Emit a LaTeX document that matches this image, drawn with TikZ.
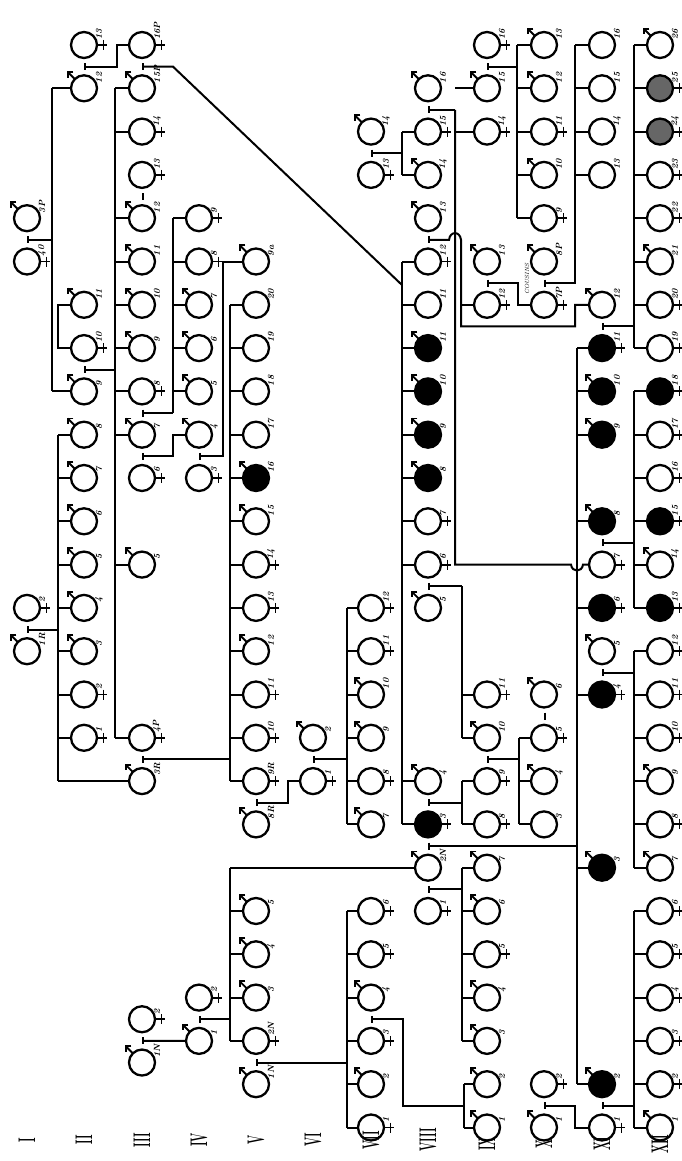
\documentclass[tikz,border=0pt]{standalone}
\usepackage{graphicx}
\usetikzlibrary{calc}
\pgfmathdeclarefunction{ry}{1}{\pgfmathparse{45+43.3*(#1-1)}}
\def\xA{27}\def\xB{84}\def\xC{142}\def\xD{199}\def\xE{256}\def\xF{313}
\def\xG{371}\def\xH{428}\def\xI{487}\def\xJ{544}\def\xK{602}\def\xL{660}
\tikzset{
  ln/.style={line width=2pt},
  sym/.style={line width=1.9pt},
  pers/.style={circle, draw, line width=2.3pt, minimum size=26pt, inner sep=0pt, outer sep=0pt, fill=white},
  fn/.style={}, fb/.style={fill=black}, fg/.style={fill=black!60},
  lab/.style={rotate=90, font=\fontsize{9}{9}\selectfont\bfseries\itshape, inner sep=0pt, anchor=west},
  rom/.style={rotate=90, font=\fontsize{24}{24}\selectfont\bfseries, inner sep=0pt},
}
\newcommand\sxm[1]{\draw[sym] (#1.135) -- ++(-7,-7) coordinate (#1A);
  \draw[sym] ($(#1A)+(5.5,0)$) -- (#1A) -- ($(#1A)+(0,5.5)$);}
\newcommand\sxf[1]{\draw[sym] (#1.east) -- ++(10,0);
  \draw[sym] ($(#1.east)+(6.5,-5)$) -- ($(#1.east)+(6.5,5)$);}
\newcommand\sxu[1]{}
\newcommand\ind[6]{%
  \node[pers,#5] (#1) at (#2,{ry(#3)}) {};
  \csname sx#4\endcsname{#1}%
  \node[lab] (#1L) at ($(#1)+(15,-5)$) {#6};}
\newcommand\tick[3]{\coordinate (#1) at ($(#2)!0.5!(#3)+(1,0)$);
  \draw[ln] ($(#1)+(0,-3.5)$) -- ($(#1)+(0,3.5)$);}
\newcommand\drop[2]{\draw[ln] (#1) -- (#2,0 |- #1);}
\newcommand\stub[2]{\draw[ln] (#1,0 |- #2.west) -- (#2.west);}
\newcommand\vbar[3]{\draw[ln] (#1,{ry(#2)}) -- (#1,{ry(#3)});}
\begin{document}
\begin{tikzpicture}[x=1pt,y=-1pt]
\useasboundingbox (0,0) rectangle (682,1161);
\fill[white] (0,0) rectangle (682,1161);
% ---------------- Gen I
\ind{c1r5}{\xA}{5}{m}{fn}{3P}
\ind{c1r6}{\xA}{6}{f}{fn}{40}
\ind{c1r14}{\xA}{14}{f}{fn}{2}
\ind{c1r15}{\xA}{15}{m}{fn}{1R}
% ---------------- Gen II
\ind{c2r1}{\xB}{1}{f}{fn}{13}
\ind{c2r2}{\xB}{2}{m}{fn}{12}
\ind{c2r7}{\xB}{7}{m}{fn}{11}
\ind{c2r8}{\xB}{8}{f}{fn}{10}
\ind{c2r9}{\xB}{9}{m}{fn}{9}
\ind{c2r10}{\xB}{10}{m}{fn}{8}
\ind{c2r11}{\xB}{11}{m}{fn}{7}
\ind{c2r12}{\xB}{12}{m}{fn}{6}
\ind{c2r13}{\xB}{13}{m}{fn}{5}
\ind{c2r14}{\xB}{14}{m}{fn}{4}
\ind{c2r15}{\xB}{15}{m}{fn}{3}
\ind{c2r16}{\xB}{16}{f}{fn}{2}
\ind{c2r17}{\xB}{17}{f}{fn}{1}
% ---------------- Gen III
\ind{c3r1}{\xC}{1}{f}{fn}{16P}
\ind{c3r2}{\xC}{2}{m}{fn}{15P}
\ind{c3r3}{\xC}{3}{f}{fn}{14}
\ind{c3r4}{\xC}{4}{f}{fn}{13}
\ind{c3r5}{\xC}{5}{m}{fn}{12}
\ind{c3r6}{\xC}{6}{m}{fn}{11}
\ind{c3r7}{\xC}{7}{m}{fn}{10}
\ind{c3r8}{\xC}{8}{m}{fn}{9}
\ind{c3r9}{\xC}{9}{f}{fn}{8}
\ind{c3r10}{\xC}{10}{m}{fn}{7}
\ind{c3r11}{\xC}{11}{f}{fn}{6}
\ind{c3r13}{\xC}{13}{m}{fn}{5}
\ind{c3r17}{\xC}{17}{f}{fn}{4P}
\ind{c3r18}{\xC}{18}{m}{fn}{3R}
\ind{c3r23}{\xC}{23.5}{f}{fn}{2}
\ind{c3r24}{\xC}{24.5}{m}{fn}{1N}
% ---------------- Gen IV
\ind{c4r5}{\xD}{5}{f}{fn}{9}
\ind{c4r6}{\xD}{6}{f}{fn}{8}
\ind{c4r7}{\xD}{7}{m}{fn}{7}
\ind{c4r8}{\xD}{8}{m}{fn}{6}
\ind{c4r9}{\xD}{9}{m}{fn}{5}
\ind{c4r10}{\xD}{10}{m}{fn}{4}
\ind{c4r11}{\xD}{11}{f}{fn}{3}
\ind{c4r23}{\xD}{23}{f}{fn}{2}
\ind{c4r24}{\xD}{24}{m}{fn}{1}
% ---------------- Gen V
\ind{c5r6}{\xE}{6}{m}{fn}{9a}
\ind{c5r7}{\xE}{7}{u}{fn}{20}
\ind{c5r8}{\xE}{8}{u}{fn}{19}
\ind{c5r9}{\xE}{9}{u}{fn}{18}
\ind{c5r10}{\xE}{10}{u}{fn}{17}
\ind{c5r11}{\xE}{11}{m}{fb}{16}
\ind{c5r12}{\xE}{12}{m}{fn}{15}
\ind{c5r13}{\xE}{13}{f}{fn}{14}
\ind{c5r14}{\xE}{14}{f}{fn}{13}
\ind{c5r15}{\xE}{15}{m}{fn}{12}
\ind{c5r16}{\xE}{16}{f}{fn}{11}
\ind{c5r17}{\xE}{17}{f}{fn}{10}
\ind{c5r18}{\xE}{18}{f}{fn}{9R}
\ind{c5r19}{\xE}{19}{m}{fn}{8R}
\ind{c5r21}{\xE}{21}{m}{fn}{5}
\ind{c5r22}{\xE}{22}{m}{fn}{4}
\ind{c5r23}{\xE}{23}{m}{fn}{3}
\ind{c5r24}{\xE}{24}{f}{fn}{2N}
\ind{c5r25}{\xE}{25}{m}{fn}{1N}
% ---------------- Gen VI
\ind{c6r17}{\xF}{17}{m}{fn}{2}
\ind{c6r18}{\xF}{18}{f}{fn}{1}
% ---------------- Gen VII
\ind{c7r3}{\xG}{3}{m}{fn}{14}
\ind{c7r4}{\xG}{4}{f}{fn}{13}
\ind{c7r14}{\xG}{14}{f}{fn}{12}
\ind{c7r15}{\xG}{15}{f}{fn}{11}
\ind{c7r16}{\xG}{16}{m}{fn}{10}
\ind{c7r17}{\xG}{17}{m}{fn}{9}
\ind{c7r18}{\xG}{18}{f}{fn}{8}
\ind{c7r19}{\xG}{19}{m}{fn}{7}
\ind{c7r21}{\xG}{21}{f}{fn}{6}
\ind{c7r22}{\xG}{22}{f}{fn}{5}
\ind{c7r23}{\xG}{23}{m}{fn}{4}
\ind{c7r24}{\xG}{24}{f}{fn}{3}
\ind{c7r25}{\xG}{25}{m}{fn}{2}
\ind{c7r26}{\xG}{26}{f}{fn}{1}
% ---------------- Gen VIII
\ind{c8r2}{\xH}{2}{m}{fn}{16}
\ind{c8r3}{\xH}{3}{f}{fn}{15}
\ind{c8r4}{\xH}{4}{m}{fn}{14}
\ind{c8r5}{\xH}{5}{m}{fn}{13}
\ind{c8r6}{\xH}{6}{f}{fn}{12}
\ind{c8r7}{\xH}{7}{u}{fn}{11}
\ind{c8r8}{\xH}{8}{m}{fb}{11}
\ind{c8r9}{\xH}{9}{m}{fb}{10}
\ind{c8r10}{\xH}{10}{m}{fb}{9}
\ind{c8r11}{\xH}{11}{m}{fb}{8}
\ind{c8r12}{\xH}{12}{f}{fn}{7}
\ind{c8r13}{\xH}{13}{f}{fn}{6}
\ind{c8r14}{\xH}{14}{m}{fn}{5}
\ind{c8r18}{\xH}{18}{m}{fn}{4}
\ind{c8r19}{\xH}{19}{f}{fb}{3}
\ind{c8r20}{\xH}{20}{m}{fn}{2N}
\ind{c8r21}{\xH}{21}{f}{fn}{1}
% ---------------- Gen IX
\ind{c9r1}{\xI}{1}{f}{fn}{16}
\ind{c9r2}{\xI}{2}{m}{fn}{15}
\ind{c9r3}{\xI}{3}{f}{fn}{14}
\ind{c9r6}{\xI}{6}{m}{fn}{13}
\ind{c9r7}{\xI}{7}{f}{fn}{12}
\ind{c9r16}{\xI}{16}{f}{fn}{11}
\ind{c9r17}{\xI}{17}{m}{fn}{10}
\ind{c9r18}{\xI}{18}{f}{fn}{9}
\ind{c9r19}{\xI}{19}{f}{fn}{8}
\ind{c9r20}{\xI}{20}{m}{fn}{7}
\ind{c9r21}{\xI}{21}{m}{fn}{6}
\ind{c9r22}{\xI}{22}{f}{fn}{5}
\ind{c9r23}{\xI}{23}{m}{fn}{4}
\ind{c9r24}{\xI}{24}{m}{fn}{3}
\ind{c9r25}{\xI}{25}{m}{fn}{2}
\ind{c9r26}{\xI}{26}{m}{fn}{1}
% ---------------- Gen X
\ind{c10r1}{\xJ}{1}{m}{fn}{13}
\ind{c10r2}{\xJ}{2}{m}{fn}{12}
\ind{c10r3}{\xJ}{3}{f}{fn}{11}
\ind{c10r4}{\xJ}{4}{m}{fn}{10}
\ind{c10r5}{\xJ}{5}{f}{fn}{9}
\ind{c10r6}{\xJ}{6}{m}{fn}{8P}
\ind{c10r7}{\xJ}{7}{f}{fn}{7P}
\ind{c10r16}{\xJ}{16}{m}{fn}{6}
\ind{c10r17}{\xJ}{17}{f}{fn}{5}
\ind{c10r18}{\xJ}{18}{m}{fn}{4}
\ind{c10r19}{\xJ}{19}{u}{fn}{3}
\ind{c10r25}{\xJ}{25}{f}{fn}{2}
\ind{c10r26}{\xJ}{26}{m}{fn}{1}
% ---------------- Gen XI
\ind{c11r1}{\xK}{1}{u}{fn}{16}
\ind{c11r2}{\xK}{2}{u}{fn}{15}
\ind{c11r3}{\xK}{3}{u}{fn}{14}
\ind{c11r4}{\xK}{4}{u}{fn}{13}
\ind{c11r7}{\xK}{7}{m}{fn}{12}
\ind{c11r8}{\xK}{8}{f}{fb}{11}
\ind{c11r9}{\xK}{9}{m}{fb}{10}
\ind{c11r10}{\xK}{10}{m}{fb}{9}
\ind{c11r12}{\xK}{12}{m}{fb}{8}
\ind{c11r13}{\xK}{13}{f}{fn}{7}
\ind{c11r14}{\xK}{14}{f}{fb}{6}
\ind{c11r15}{\xK}{15}{m}{fn}{5}
\ind{c11r16}{\xK}{16}{f}{fb}{4}
\ind{c11r20}{\xK}{20}{m}{fb}{3}
\ind{c11r25}{\xK}{25}{m}{fb}{2}
\ind{c11r26}{\xK}{26}{f}{fn}{1}
% ---------------- Gen XII
\ind{c12r1}{\xL}{1}{m}{fn}{26}
\ind{c12r2}{\xL}{2}{f}{fg}{25}
\ind{c12r3}{\xL}{3}{f}{fg}{24}
\ind{c12r4}{\xL}{4}{f}{fn}{23}
\ind{c12r5}{\xL}{5}{f}{fn}{22}
\ind{c12r6}{\xL}{6}{m}{fn}{21}
\ind{c12r7}{\xL}{7}{f}{fn}{20}
\ind{c12r8}{\xL}{8}{f}{fn}{19}
\ind{c12r9}{\xL}{9}{f}{fb}{18}
\ind{c12r10}{\xL}{10}{f}{fn}{17}
\ind{c12r11}{\xL}{11}{f}{fn}{16}
\ind{c12r12}{\xL}{12}{f}{fb}{15}
\ind{c12r13}{\xL}{13}{m}{fn}{14}
\ind{c12r14}{\xL}{14}{f}{fb}{13}
\ind{c12r15}{\xL}{15}{f}{fn}{12}
\ind{c12r16}{\xL}{16}{f}{fn}{11}
\ind{c12r17}{\xL}{17}{f}{fn}{10}
\ind{c12r18}{\xL}{18}{m}{fn}{9}
\ind{c12r19}{\xL}{19}{f}{fn}{8}
\ind{c12r20}{\xL}{20}{m}{fn}{7}
\ind{c12r21}{\xL}{21}{f}{fn}{6}
\ind{c12r22}{\xL}{22}{f}{fn}{5}
\ind{c12r23}{\xL}{23}{f}{fn}{4}
\ind{c12r24}{\xL}{24}{f}{fn}{3}
\ind{c12r25}{\xL}{25}{f}{fn}{2}
\ind{c12r26}{\xL}{26}{m}{fn}{1}
% =============== connectors
% Gen I
\tick{tA}{c1r5}{c1r6}\drop{tA}{52}
\vbar{52}{2}{9}\stub{52}{c2r2}\stub{52}{c2r9}
\draw[ln] (c2r7.west) -- (58,0 |- c2r7.west) -- (58,0 |- c2r8.west) -- (c2r8.west);
\tick{tB}{c1r14}{c1r15}\drop{tB}{58}
\vbar{58}{10}{18}
\foreach \r in {10,...,17}{\stub{58}{c2r\r}}
\stub{58}{c3r18}
% Gen II
\tick{tC}{c2r1}{c2r2}
\draw[ln] (tC) -- (117,0 |- tC) -- (117,0 |- c3r1.west) -- (c3r1.west);
\tick{tD}{c2r8}{c2r9}\drop{tD}{115}
\vbar{115}{2}{17}
\foreach \r in {2,3,5,6,7,8,9,10,13,17}{\stub{115}{c3r\r}}
% Gen III
\tick{tE}{c3r1}{c3r2}
\draw[ln] (tE) -- (173,0 |- tE) -- (402,285);
\tick{tF}{c3r4}{c3r5}
\tick{tG}{c3r9}{c3r10}\drop{tG}{173}
\draw[ln] (173,{ry(5)}) -- (173,0 |- tG);
\foreach \r in {5,...,9}{\stub{173}{c4r\r}}
\tick{tH}{c3r10}{c3r11}
\draw[ln] (tH) -- (173,0 |- tH) -- (173,0 |- c4r10.west) -- (c4r10.west);
\tick{tI}{c3r17}{c3r18}\drop{tI}{230}
\vbar{230}{7}{18}
\foreach \r in {7,...,18}{\stub{230}{c5r\r}}
\tick{tJ}{c3r23}{c3r24}
\draw[ln] (tJ) -- (c4r24.west);
% Gen IV
\tick{tK}{c4r10}{c4r11}
\draw[ln] (tK) -- (223,0 |- tK) -- (223,0 |- c5r6.west) -- (c5r6.west);
\tick{tL}{c4r23}{c4r24}\drop{tL}{230}
\vbar{230}{20}{24}
\foreach \r in {21,...,24}{\stub{230}{c5r\r}}
\stub{230}{c8r20}
% Gen V
\tick{tM}{c5r18}{c5r19}
\draw[ln] (tM) -- (288,0 |- tM) -- (288,0 |- c6r18.west) -- (c6r18.west);
\tick{tN}{c5r24}{c5r25}\drop{tN}{347}
\vbar{347}{21}{26}
\foreach \r in {21,...,26}{\stub{347}{c7r\r}}
% Gen VI
\tick{tO}{c6r17}{c6r18}\drop{tO}{347}
\vbar{347}{14}{19}
\foreach \r in {14,...,19}{\stub{347}{c7r\r}}
% Gen VII
\tick{tP}{c7r3}{c7r4}\drop{tP}{402}
\vbar{402}{3}{4}\stub{402}{c8r3}\stub{402}{c8r4}
\tick{tQ}{c7r23}{c7r24}
\draw[ln] (tQ) -- (403,0 |- tQ) -- (403,{ry(25.5)}) -- (464,{ry(25.5)});
\vbar{464}{25}{26}\stub{464}{c9r25}\stub{464}{c9r26}
% Gen VIII
\vbar{402}{6}{19}
\foreach \r in {6,...,13,18,19}{\stub{402}{c8r\r}}
\tick{tR}{c8r2}{c8r3}\drop{tR}{455}
\draw[ln] (455,0 |- tR) -- (455,{ry(13)}) -- (571,{ry(13)})
  .. controls (572,{ry(13)+8}) and (582,{ry(13)+8}) .. (583,{ry(13)}) -- (c11r13.west);
\stub{455}{c9r2}\stub{455}{c9r3}
\tick{tS}{c8r5}{c8r6}
\draw[ln] (tS) -- (449,0 |- tS) .. controls (450,{ry(5.5)-9}) and (460,{ry(5.5)-9}) .. (461,0 |- tS)
  -- (461,{ry(7.5)}) -- (575,{ry(7.5)}) -- (575,0 |- c11r7.west) -- (c11r7.west);
\stub{461}{c9r7}
\tick{tT}{c8r13}{c8r14}\drop{tT}{462}
\draw[ln] (462,0 |- tT) -- (462,{ry(17)});
\stub{462}{c9r16}\stub{462}{c9r17}
\tick{tU}{c8r18}{c8r19}\drop{tU}{462}
\vbar{462}{18}{19}\stub{462}{c9r18}\stub{462}{c9r19}
\tick{tV}{c8r19}{c8r20}\drop{tV}{577}
\vbar{577}{8}{25}
\foreach \r in {8,9,10,12,14,16,20,25}{\stub{577}{c11r\r}}
\tick{tW}{c8r20}{c8r21}\drop{tW}{462}
\vbar{462}{20}{24}
\foreach \r in {20,...,24}{\stub{462}{c9r\r}}
% Gen IX
\tick{tX}{c9r1}{c9r2}\drop{tX}{517}
\vbar{517}{1}{5}
\foreach \r in {1,...,5}{\stub{517}{c10r\r}}
\tick{tY}{c9r6}{c9r7}
\draw[ln] (tY) -- (518,0 |- tY) -- (518,0 |- c10r7.west) -- (c10r7.west);
\node[rotate=90, font=\fontsize{6}{6}\selectfont\itshape, inner sep=0pt] (cous) at (527,279) {COUSINS};
\tick{tZ}{c9r17}{c9r18}\drop{tZ}{519}
\vbar{519}{17}{19}
\foreach \r in {17,18,19}{\stub{519}{c10r\r}}
% Gen X
\tick{ta}{c10r6}{c10r7}
\draw[ln] (ta) -- (575,0 |- ta) -- (575,{ry(1)});
\foreach \r in {1,...,4}{\stub{575}{c11r\r}}
\tick{tb}{c10r16}{c10r17}
\tick{tc}{c10r25}{c10r26}
\draw[ln] (tc) -- (575,0 |- tc) -- (575,0 |- c11r26.west) -- (c11r26.west);
% Gen XI
\tick{td}{c11r7}{c11r8}\drop{td}{634}
\vbar{634}{1}{8}
\foreach \r in {1,...,8}{\stub{634}{c12r\r}}
\tick{te}{c11r12}{c11r13}\drop{te}{634}
\vbar{634}{9}{14}
\foreach \r in {9,...,14}{\stub{634}{c12r\r}}
\tick{tf}{c11r15}{c11r16}\drop{tf}{634}
\vbar{634}{15}{20}
\foreach \r in {15,...,20}{\stub{634}{c12r\r}}
\tick{tg}{c11r25}{c11r26}\drop{tg}{634}
\vbar{634}{21}{26}
\foreach \r in {21,...,26}{\stub{634}{c12r\r}}
% =============== generation numerals
\node[rom] (gI) at (\xA,1140) {\scalebox{0.45}[1]{I}};
\node[rom] (gII) at (\xB,1140) {\scalebox{0.45}[1]{II}};
\node[rom] (gIII) at (\xC,1140) {\scalebox{0.45}[1]{III}};
\node[rom] (gIV) at (\xD,1140) {\scalebox{0.45}[1]{IV}};
\node[rom] (gV) at (\xE,1140) {\scalebox{0.45}[1]{V}};
\node[rom] (gVI) at (\xF,1140) {\scalebox{0.45}[1]{VI}};
\node[rom] (gVII) at (\xG,1140) {\scalebox{0.45}[1]{VII}};
\node[rom] (gVIII) at (\xH,1140) {\scalebox{0.45}[1]{VIII}};
\node[rom] (gIX) at (\xI,1144) {\scalebox{0.45}[1]{IX}};
\node[rom] (gX) at (\xJ,1144) {\scalebox{0.45}[1]{X}};
\node[rom] (gXI) at (\xK,1144) {\scalebox{0.45}[1]{XI}};
\node[rom] (gXII) at (\xL,1144) {\scalebox{0.45}[1]{XII}};
\end{tikzpicture}
\end{document}
